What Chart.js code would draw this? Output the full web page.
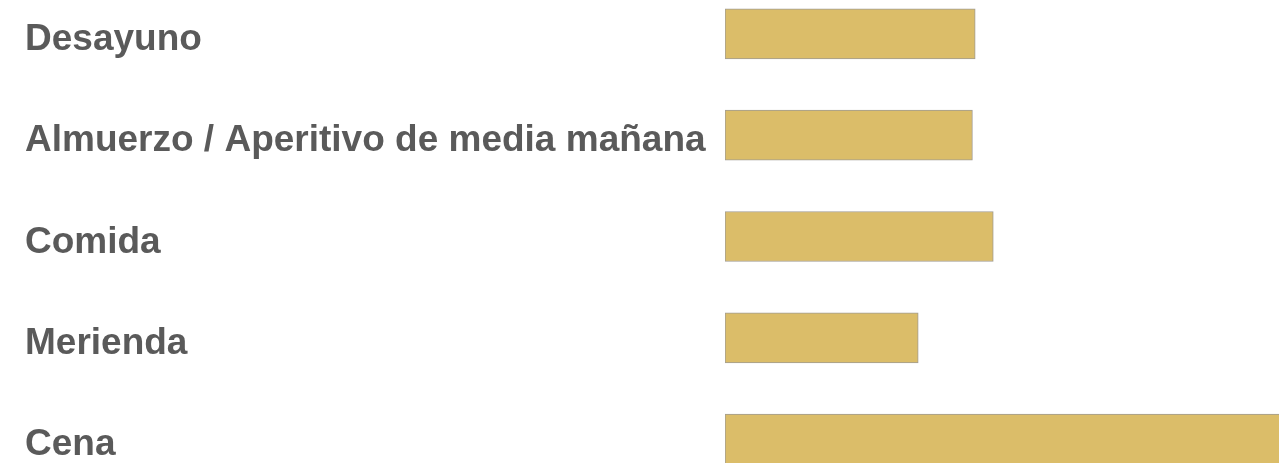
<!DOCTYPE html>
<html>
<head>
    <meta charset="utf-8">
    <title>Comidas</title>
    <script src="https://cdn.jsdelivr.net/npm/chart.js@4"></script>
    <style>
        html, body {
            margin: 0;
            padding: 0;
            background: #ffffff;
            overflow: hidden;
            width: 1279px;
            height: 463px;
        }

        .chart {
            position: absolute;
            left: 0;
            top: -39px;
            width: 1420px;
            height: 551px;
        }
    </style>
</head>
<body>
<div class="chart">
    <canvas id="bar-chart" width="1420" height="551"></canvas>
</div>

<script>
    // datos
    const categories = ['Desayuno', 'Almuerzo / Aperitivo de media mañana', 'Comida', 'Merienda', 'Cena'];
    const values = [18.0, 17.8, 19.3, 13.9, 42.0];

    var ctx = document.getElementById('bar-chart').getContext('2d');
    var chart = new Chart(ctx, {
        type: 'bar',
        data: {
            labels: categories,
            datasets: [{
                data: values,
                backgroundColor: '#dbbd69',
                borderColor: '#a19c92',
                borderWidth: 1,
                borderSkipped: false,
                barThickness: 50
            }]
        },
        options: {
            indexAxis: 'y',
            responsive: false,
            animation: false,
            layout: {
                padding: {left: 25, right: 0, top: 0, bottom: 0}
            },
            plugins: {
                legend: {display: false},
                tooltip: {enabled: false}
            },
            scales: {
                x: {
                    display: false,
                    min: 0,
                    max: 50
                },
                y: {
                    grid: {display: false},
                    border: {display: false},
                    ticks: {
                        crossAlign: 'far',
                        color: '#5a5a5a',
                        padding: 0,
                        labelOffset: 6,
                        font: {
                            family: '"Liberation Sans", Arial, sans-serif',
                            size: 37,
                            weight: 'bold'
                        }
                    },
                    afterFit: function (scale) {
                        scale.width = 700; // el area empieza en x=725
                    }
                }
            }
        }
    });
</script>
</body>
</html>
